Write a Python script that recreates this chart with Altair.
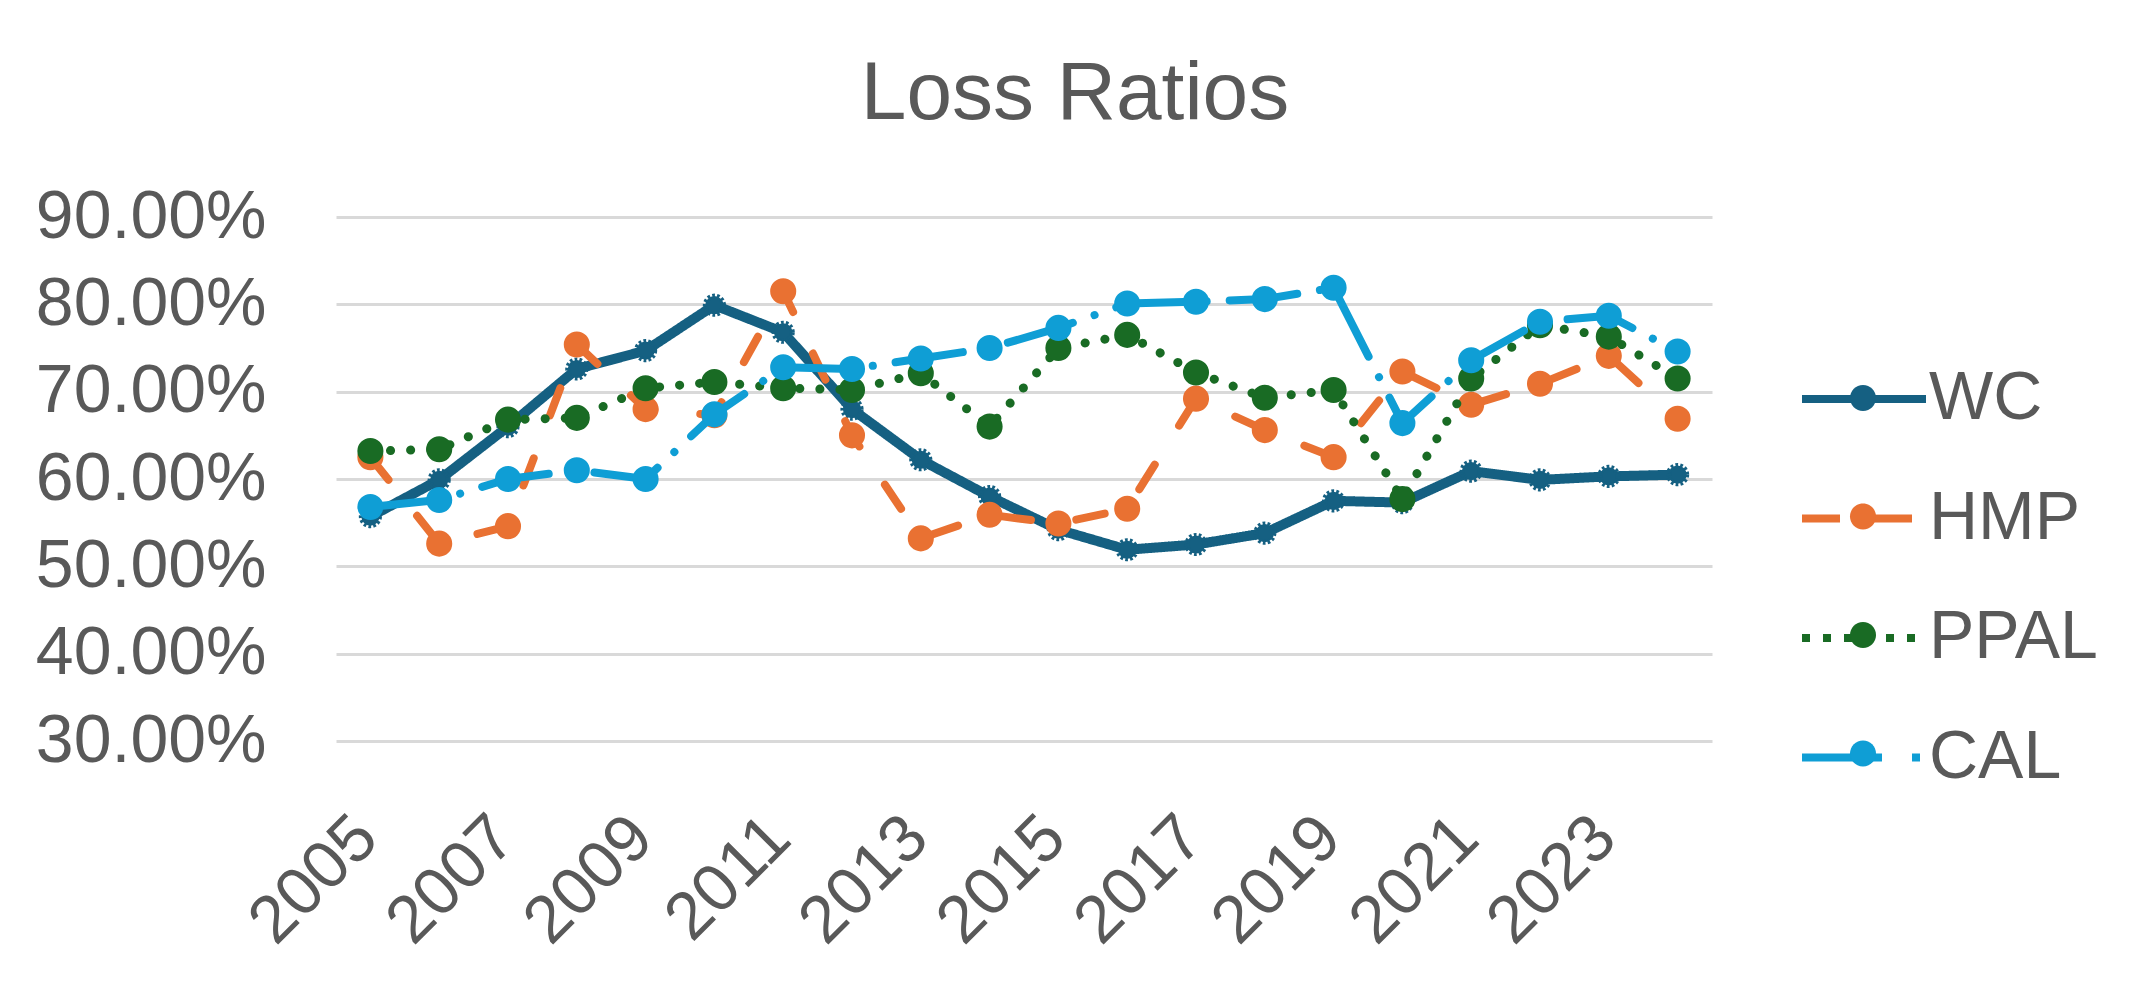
import altair as alt
import pandas as pd

FONT = "Liberation Sans"
TXT = "#595959"

years = [str(y) for y in range(2005, 2025)]
x_label_years = ["2005", "2007", "2009", "2011", "2013", "2015", "2017", "2019", "2021", "2023"]
y_ticks = [0.30, 0.40, 0.50, 0.60, 0.70, 0.80, 0.90]

series_names = ["WC", "HMP", "PPAL", "CAL"]
wc = [55.7, 59.9, 66.0, 72.6, 74.7, 79.9, 76.8, 68.0, 62.2, 58.0,
      54.2, 51.9, 52.5, 53.8, 57.5, 57.3, 60.9, 59.9, 60.3, 60.5]
hmp = [62.5, 52.6, 54.6, 75.4, 68.0, 67.3, 81.5, 65.0, 53.2, 55.9,
       54.9, 56.6, 69.2, 65.6, 62.5, 72.3, 68.5, 70.9, 74.1, 66.9]
ppal = [63.2, 63.4, 66.8, 67.0, 70.4, 71.1, 70.4, 70.2, 72.1, 66.0,
        75.0, 76.5, 72.2, 69.3, 70.2, 57.7, 71.5, 77.6, 76.3, 71.5]
cal = [56.8, 57.6, 60.0, 61.0, 60.0, 67.4, 72.8, 72.6, 73.8, 75.0,
       77.3, 80.1, 80.3, 80.6, 81.9, 66.4, 73.6, 78.0, 78.7, 74.6]

colors = ["#156082", "#E97132", "#196B24", "#0F9ED5"]
# dash patterns for the plotted lines (round caps)
dashes = [[1, 0], [29, 46], [0.1, 20], [68, 23, 0.1, 23]]
# dash patterns for the legend samples (butt caps)
legend_dashes = [[1, 0], [38, 34], [8, 13], [80, 30, 8, 30]]
widths = [10, 8, 9, 8]

rows = []
for name, vals in zip(series_names, [wc, hmp, ppal, cal]):
    for yr, v in zip(years, vals):
        rows.append({"year": yr, "series": name, "value": v / 100.0})
df = pd.DataFrame(rows)

LEG_X, LEG_Y = 1462, 147
line_path = "M-2,0H2"
dot_path = "M0.42,0A0.42,0.42,0,1,1,-0.42,0A0.42,0.42,0,1,1,0.42,0Z"

legend_lines = alt.Legend(
    title=None, orient="none", legendX=LEG_X, legendY=LEG_Y,
    symbolType=line_path, symbolSize=3844, symbolStrokeWidth=8, symbolOpacity=1,
    symbolOffset=31, labelOffset=30, rowPadding=50.5, padding=0,
    labelFont=FONT, labelFontSize=68, labelColor=TXT, labelLimit=0, zindex=0,
)
legend_dots = alt.Legend(
    title=None, orient="none", legendX=LEG_X, legendY=LEG_Y,
    symbolType=dot_path, symbolSize=3844, symbolStrokeWidth=0, symbolOpacity=1,
    symbolOffset=31, labelOffset=30, rowPadding=50.5, padding=0,
    labelFont=FONT, labelFontSize=68, labelColor=TXT, labelExpr="''",
    labelLimit=0, zindex=1,
)

color_scale = alt.Scale(domain=series_names, range=colors)
legend_dash_scale = alt.Scale(domain=series_names, range=legend_dashes)
fill_scale = alt.Scale(range=colors)

x_enc = alt.X("year:O", sort=years,
              scale=alt.Scale(type="point", padding=0.5),
              axis=alt.Axis(values=x_label_years, labelAngle=-45, labelAlign="right",
                            labelBaseline="middle", labelPadding=86, labelOffset=-4,
                            labelFont=FONT, labelFontSize=67, labelColor=TXT, labelLimit=0,
                            domain=False, ticks=False, grid=False, title=None))
y_enc = alt.Y("value:Q",
              scale=alt.Scale(domain=[0.3, 0.9], nice=False, zero=False),
              axis=alt.Axis(values=y_ticks, format=".2%", labelPadding=70,
                            labelFont=FONT, labelFontSize=68, labelColor=TXT, labelLimit=0,
                            domain=False, ticks=False, grid=True,
                            gridColor="#D9D9D9", gridWidth=3, title=None))

base = alt.Chart(df).encode(x=x_enc, y=y_enc)

# legend-only layer (no rows drawn): line samples with legend dash styles
legend_layer = base.transform_filter("false").mark_line(strokeWidth=8).encode(
    color=alt.Color("series:N", scale=color_scale, legend=legend_lines),
    strokeDash=alt.StrokeDash("series:N", scale=legend_dash_scale, legend=legend_lines),
)

layers = [legend_layer]
for i, name in enumerate(series_names):
    sub = base.transform_filter(alt.datum.series == name)
    line = sub.mark_line(strokeWidth=widths[i], strokeCap="round", strokeJoin="round",
                         strokeDash=dashes[i]).encode(
        color=alt.Color("series:N", scale=color_scale, legend=None),
    )
    layers.append(line)
    fill_enc = alt.Fill("pseries:N", sort=series_names, scale=fill_scale, legend=legend_dots)
    if name == "WC":
        pts = sub.transform_calculate(pseries="datum.series").mark_point(
            shape="circle", filled=True, size=330, opacity=1,
            stroke=colors[0], strokeWidth=5, strokeDash=[2.5, 2]).encode(fill=fill_enc)
    else:
        pts = sub.transform_calculate(pseries="datum.series").mark_circle(
            size=680, opacity=1).encode(fill=fill_enc)
    layers.append(pts)

chart = alt.layer(*layers).properties(
    width=1376, height=524,
    title=alt.TitleParams("Loss Ratios", font=FONT, fontSize=82, fontWeight="normal",
                          color=TXT, anchor="middle", dx=51, offset=-18,
                          baseline="alphabetic"),
    autosize=alt.AutoSizeParams(type="none"),
    padding={"left": 328, "top": 209, "right": 428, "bottom": 244},
).configure_view(stroke=None)

chart.save("out.html", embed_options={"renderer": "svg", "actions": False})
